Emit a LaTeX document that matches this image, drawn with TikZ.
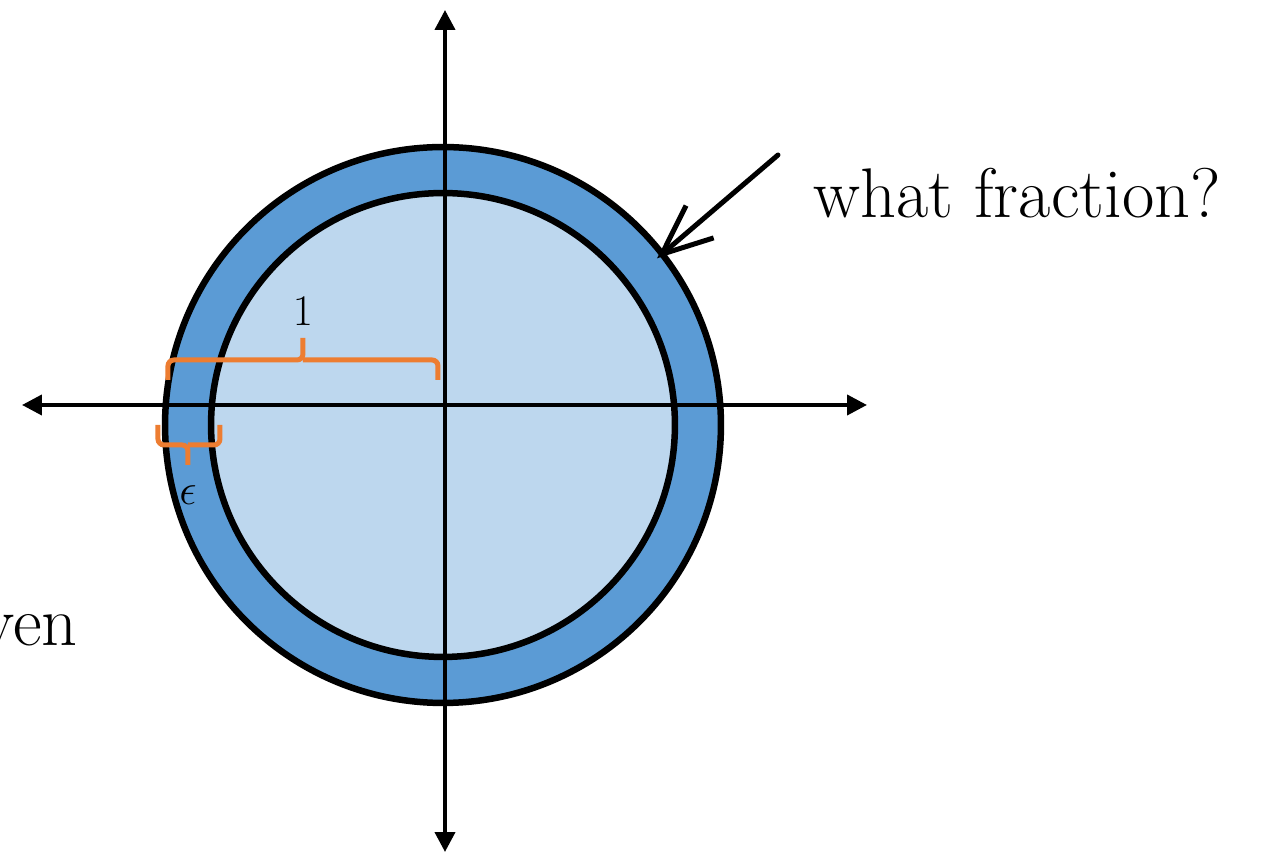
\documentclass[tikz,border=0pt]{standalone}
\usepackage{xcolor}
\usepackage{tikz}
\usepackage{amsmath}
\usetikzlibrary{
  arrows.meta,
  shapes.geometric,
  positioning
}
\definecolor{rgRing}{HTML}{5B9BD5}
\definecolor{rgDisc}{HTML}{BDD7EE}
\definecolor{rgBrace}{HTML}{ED7D31}
\tikzset{
  ringdisc/.style={circle, draw=black, line width=0.13cm, inner sep=0pt},
  axisline/.style={{Triangle[length=0.4cm, width=0.4cm]}-{Triangle[length=0.4cm, width=0.4cm]}, line width=0.08cm, black},
  bracket/.style={rgBrace, line width=0.1cm, rounded corners=0.12cm},
  pentext/.style={font=\fontsize{40}{44}\selectfont, inner sep=0pt},
  penarrow/.style={line width=0.1cm, line cap=round, -{Straight Barb[length=1cm, width=0.85cm]}},
  mlabel/.style={font=\fontsize{23}{26}\selectfont, inner sep=0pt}
}

\begin{document}
\begin{tikzpicture}[x=0.02cm, y=0.02cm, node distance=4mm]
  \useasboundingbox (-443,-449) rectangle (822,405);
  \clip (-443,-449) rectangle (822,405);
  % annulus and unit disc
  \node[ringdisc, fill=rgRing, minimum size=11.12cm] (outer) at (0,-20) {};
  \node[ringdisc, fill=rgDisc, minimum size=9.28cm] (inner) at (0,-20) {};
  % axes
  \coordinate (xl) at (-421,0);
  \coordinate (xr) at (424,0);
  \coordinate (yb) at (2,-447);
  \coordinate (yt) at (2,395);
  \draw[axisline] (xl) -- (xr);
  \draw[axisline] (yb) -- (yt);
  % radius brace
  \draw[bracket] (-275,25) |- (-140,45) -- (-140,67) coordinate (onetick);
  \draw[bracket] (-140,45) -| (-5,25);
  \node[mlabel, above=0.25cm of onetick] (one) {$1$};
  % width brace
  \draw[bracket] (-285,-20) |- (-255,-40) -- (-255,-60) coordinate (epstick);
  \draw[bracket] (-255,-40) -| (-223,-20);
  \node[mlabel, below=0.4cm of epstick] (eps) {$\epsilon$};
  % handwritten notes
  \node[pentext] (question) at (574,212) {what fraction?};
  \coordinate (tail) at (335,250);
  \draw[penarrow, shorten >=-0.2cm] (tail) -- (outer.38);
  \node[pentext, anchor=east] (given) at (-365,-225) {ven};
\end{tikzpicture}
\end{document}
